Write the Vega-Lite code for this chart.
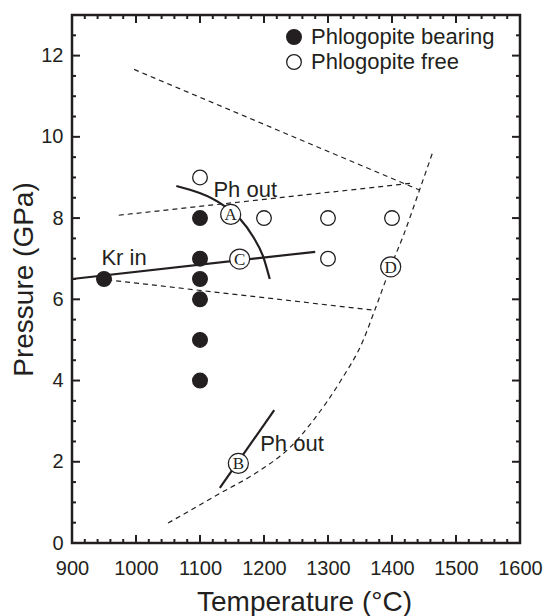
{
  "$schema": "https://vega.github.io/schema/vega-lite/v6.json",
  "width": 448,
  "height": 528,
  "autosize": {"type": "none"},
  "padding": {"left": 72, "top": 15, "right": 30, "bottom": 73},
  "background": "white",
  "view": {"stroke": "#231f20", "strokeWidth": 2.5},
  "config": {
    "font": "Liberation Sans",
    "axis": {
      "domain": false,
      "grid": false,
      "ticks": false,
      "labelFont": "Liberation Sans",
      "labelFontSize": 20,
      "labelColor": "#231f20",
      "labelOverlap": false,
      "labelFlush": false,
      "titleFont": "Liberation Sans",
      "titleFontSize": 28,
      "titleFontWeight": "normal",
      "titleColor": "#231f20"
    }
  },
  "datasets": {
    "xticks": [
      {"T": 900, "major": true}, {"T": 920, "major": false}, {"T": 940, "major": false}, {"T": 960, "major": false}, {"T": 980, "major": false},
      {"T": 1000, "major": true}, {"T": 1020, "major": false}, {"T": 1040, "major": false}, {"T": 1060, "major": false}, {"T": 1080, "major": false},
      {"T": 1100, "major": true}, {"T": 1120, "major": false}, {"T": 1140, "major": false}, {"T": 1160, "major": false}, {"T": 1180, "major": false},
      {"T": 1200, "major": true}, {"T": 1220, "major": false}, {"T": 1240, "major": false}, {"T": 1260, "major": false}, {"T": 1280, "major": false},
      {"T": 1300, "major": true}, {"T": 1320, "major": false}, {"T": 1340, "major": false}, {"T": 1360, "major": false}, {"T": 1380, "major": false},
      {"T": 1400, "major": true}, {"T": 1420, "major": false}, {"T": 1440, "major": false}, {"T": 1460, "major": false}, {"T": 1480, "major": false},
      {"T": 1500, "major": true}, {"T": 1520, "major": false}, {"T": 1540, "major": false}, {"T": 1560, "major": false}, {"T": 1580, "major": false},
      {"T": 1600, "major": true}
    ],
    "yticks": [
      {"P": 0, "major": true}, {"P": 0.5, "major": false}, {"P": 1, "major": false}, {"P": 1.5, "major": false},
      {"P": 2, "major": true}, {"P": 2.5, "major": false}, {"P": 3, "major": false}, {"P": 3.5, "major": false},
      {"P": 4, "major": true}, {"P": 4.5, "major": false}, {"P": 5, "major": false}, {"P": 5.5, "major": false},
      {"P": 6, "major": true}, {"P": 6.5, "major": false}, {"P": 7, "major": false}, {"P": 7.5, "major": false},
      {"P": 8, "major": true}, {"P": 8.5, "major": false}, {"P": 9, "major": false}, {"P": 9.5, "major": false},
      {"P": 10, "major": true}, {"P": 10.5, "major": false}, {"P": 11, "major": false}, {"P": 11.5, "major": false},
      {"P": 12, "major": true}, {"P": 12.5, "major": false}, {"P": 13, "major": false}
    ],
    "dashed": [
      {"id": "upper", "i": 1, "T": 997, "P": 11.66},
      {"id": "upper", "i": 2, "T": 1443, "P": 8.69},
      {"id": "middle", "i": 1, "T": 973, "P": 8.07},
      {"id": "middle", "i": 2, "T": 1432, "P": 8.86},
      {"id": "lower", "i": 1, "T": 955, "P": 6.48},
      {"id": "lower", "i": 2, "T": 1373, "P": 5.73},
      {"id": "solidus", "i": 1, "T": 1050, "P": 0.49},
      {"id": "solidus", "i": 2, "T": 1131, "P": 1.22},
      {"id": "solidus", "i": 3, "T": 1194, "P": 1.79},
      {"id": "solidus", "i": 4, "T": 1241, "P": 2.36},
      {"id": "solidus", "i": 5, "T": 1277, "P": 3.02},
      {"id": "solidus", "i": 6, "T": 1320, "P": 4.0},
      {"id": "solidus", "i": 7, "T": 1355, "P": 4.99},
      {"id": "solidus", "i": 8, "T": 1373, "P": 5.73},
      {"id": "solidus", "i": 9, "T": 1398, "P": 6.8},
      {"id": "solidus", "i": 10, "T": 1418, "P": 7.58},
      {"id": "solidus", "i": 11, "T": 1443, "P": 8.69},
      {"id": "solidus", "i": 12, "T": 1464, "P": 9.64}
    ],
    "solid": [
      {"id": "kr", "i": 1, "T": 900, "P": 6.5},
      {"id": "kr", "i": 2, "T": 1280, "P": 7.17},
      {"id": "phA", "i": 1, "T": 1063, "P": 8.79},
      {"id": "phA", "i": 2, "T": 1136, "P": 8.32},
      {"id": "phA", "i": 3, "T": 1162, "P": 7.99},
      {"id": "phA", "i": 4, "T": 1183, "P": 7.54},
      {"id": "phA", "i": 5, "T": 1199, "P": 7.04},
      {"id": "phA", "i": 6, "T": 1209, "P": 6.5},
      {"id": "phB", "i": 1, "T": 1131, "P": 1.36},
      {"id": "phB", "i": 2, "T": 1216, "P": 3.27}
    ],
    "runs": [
      {"T": 950, "P": 6.5, "kind": "Phlogopite bearing"},
      {"T": 1100, "P": 8, "kind": "Phlogopite bearing"},
      {"T": 1100, "P": 7, "kind": "Phlogopite bearing"},
      {"T": 1100, "P": 6.5, "kind": "Phlogopite bearing"},
      {"T": 1100, "P": 6, "kind": "Phlogopite bearing"},
      {"T": 1100, "P": 5, "kind": "Phlogopite bearing"},
      {"T": 1100, "P": 4, "kind": "Phlogopite bearing"},
      {"T": 1100, "P": 9, "kind": "Phlogopite free"},
      {"T": 1200, "P": 8, "kind": "Phlogopite free"},
      {"T": 1300, "P": 8, "kind": "Phlogopite free"},
      {"T": 1400, "P": 8, "kind": "Phlogopite free"},
      {"T": 1300, "P": 7, "kind": "Phlogopite free"}
    ],
    "letters": [
      {"T": 1148, "P": 8.09, "letter": "A"},
      {"T": 1160, "P": 1.96, "letter": "B"},
      {"T": 1162, "P": 6.99, "letter": "C"},
      {"T": 1398, "P": 6.8, "letter": "D"}
    ],
    "notes": [
      {"T": 1121, "P": 8.52, "text": "Ph out"},
      {"T": 1194, "P": 2.27, "text": "Ph out"},
      {"T": 946, "P": 6.84, "text": "Kr in"}
    ]
  },
  "layer": [
    {
      "data": {"name": "dashed"},
      "mark": {"type": "line", "interpolate": "monotone", "stroke": "#231f20", "strokeWidth": 1.2, "strokeDash": [5, 4]},
      "encoding": {
        "x": {"field": "T", "type": "quantitative", "scale": {"domain": [900, 1600], "nice": false, "zero": false},
              "axis": {"orient": "bottom", "values": [900, 1000, 1100, 1200, 1300, 1400, 1500, 1600],
                       "labelBaseline": "alphabetic", "labelPadding": 31, "format": "d",
                       "title": "Temperature (°C)", "titleBaseline": "alphabetic", "titleY": 67, "titleX": 232}},
        "y": {"field": "P", "type": "quantitative", "scale": {"domain": [0, 13], "nice": false, "zero": false},
              "axis": {"orient": "left", "values": [0, 2, 4, 6, 8, 10, 12], "labelPadding": 9, "format": "d",
                       "title": "Pressure (GPa)", "titleBaseline": "alphabetic", "titleX": -40, "titleY": 264, "titleAngle": -90}},
        "detail": {"field": "id"},
        "order": {"field": "i"}
      }
    },
    {
      "data": {"name": "solid"},
      "mark": {"type": "line", "interpolate": "monotone", "stroke": "#231f20", "strokeWidth": 2.2},
      "encoding": {
        "x": {"field": "T", "type": "quantitative"},
        "y": {"field": "P", "type": "quantitative"},
        "detail": {"field": "id"},
        "order": {"field": "i"}
      }
    },
    {
      "data": {"name": "xticks"},
      "transform": [{"filter": "datum.major"}],
      "mark": {"type": "rule", "stroke": "#231f20", "strokeWidth": 2},
      "encoding": {"x": {"field": "T", "type": "quantitative"}, "y": {"datum": 0}, "y2": {"datum": 0.197}}
    },
    {
      "data": {"name": "xticks"},
      "transform": [{"filter": "!datum.major"}],
      "mark": {"type": "rule", "stroke": "#231f20", "strokeWidth": 2},
      "encoding": {"x": {"field": "T", "type": "quantitative"}, "y": {"datum": 0}, "y2": {"datum": 0.0985}}
    },
    {
      "data": {"name": "xticks"},
      "transform": [{"filter": "datum.major"}],
      "mark": {"type": "rule", "stroke": "#231f20", "strokeWidth": 2},
      "encoding": {"x": {"field": "T", "type": "quantitative"}, "y": {"datum": 13}, "y2": {"datum": 12.803}}
    },
    {
      "data": {"name": "xticks"},
      "transform": [{"filter": "!datum.major"}],
      "mark": {"type": "rule", "stroke": "#231f20", "strokeWidth": 2},
      "encoding": {"x": {"field": "T", "type": "quantitative"}, "y": {"datum": 13}, "y2": {"datum": 12.9015}}
    },
    {
      "data": {"name": "yticks"},
      "transform": [{"filter": "datum.major"}],
      "mark": {"type": "rule", "stroke": "#231f20", "strokeWidth": 2},
      "encoding": {"y": {"field": "P", "type": "quantitative"}, "x": {"datum": 900}, "x2": {"datum": 912.5}}
    },
    {
      "data": {"name": "yticks"},
      "transform": [{"filter": "!datum.major"}],
      "mark": {"type": "rule", "stroke": "#231f20", "strokeWidth": 2},
      "encoding": {"y": {"field": "P", "type": "quantitative"}, "x": {"datum": 900}, "x2": {"datum": 906.25}}
    },
    {
      "data": {"name": "yticks"},
      "transform": [{"filter": "datum.major"}],
      "mark": {"type": "rule", "stroke": "#231f20", "strokeWidth": 2},
      "encoding": {"y": {"field": "P", "type": "quantitative"}, "x": {"datum": 1600}, "x2": {"datum": 1587.5}}
    },
    {
      "data": {"name": "yticks"},
      "transform": [{"filter": "!datum.major"}],
      "mark": {"type": "rule", "stroke": "#231f20", "strokeWidth": 2},
      "encoding": {"y": {"field": "P", "type": "quantitative"}, "x": {"datum": 1600}, "x2": {"datum": 1593.75}}
    },
    {
      "data": {"name": "runs"},
      "mark": {"type": "point", "shape": "circle", "size": 215, "stroke": "#231f20", "strokeWidth": 1.3, "opacity": 1},
      "encoding": {
        "x": {"field": "T", "type": "quantitative"},
        "y": {"field": "P", "type": "quantitative"},
        "fill": {"field": "kind", "type": "nominal",
                 "scale": {"domain": ["Phlogopite bearing", "Phlogopite free"], "range": ["#231f20", "#ffffff"]},
                 "legend": {"orient": "none", "legendX": 211, "legendY": 11, "title": null, "padding": 0,
                            "labelFont": "Liberation Sans", "labelFontSize": 22, "labelColor": "#231f20", "labelLimit": 300,
                            "labelOffset": 6, "rowPadding": 3, "symbolType": "circle", "symbolSize": 215,
                            "symbolStrokeColor": "#231f20", "symbolStrokeWidth": 1.3, "symbolOpacity": 1}}
      }
    },
    {
      "data": {"name": "letters"},
      "mark": {"type": "point", "shape": "circle", "size": 400, "fill": "#ffffff", "stroke": "#231f20", "strokeWidth": 1.2, "opacity": 1},
      "encoding": {
        "x": {"field": "T", "type": "quantitative"},
        "y": {"field": "P", "type": "quantitative"}
      }
    },
    {
      "data": {"name": "letters"},
      "mark": {"type": "text", "font": "Liberation Serif", "fontSize": 17, "align": "center", "baseline": "middle", "dy": 1, "color": "#231f20"},
      "encoding": {
        "x": {"field": "T", "type": "quantitative"},
        "y": {"field": "P", "type": "quantitative"},
        "text": {"field": "letter"}
      }
    },
    {
      "data": {"name": "notes"},
      "mark": {"type": "text", "font": "Liberation Sans", "fontSize": 22, "align": "left", "baseline": "alphabetic", "color": "#231f20"},
      "encoding": {
        "x": {"field": "T", "type": "quantitative"},
        "y": {"field": "P", "type": "quantitative"},
        "text": {"field": "text"}
      }
    }
  ]
}
